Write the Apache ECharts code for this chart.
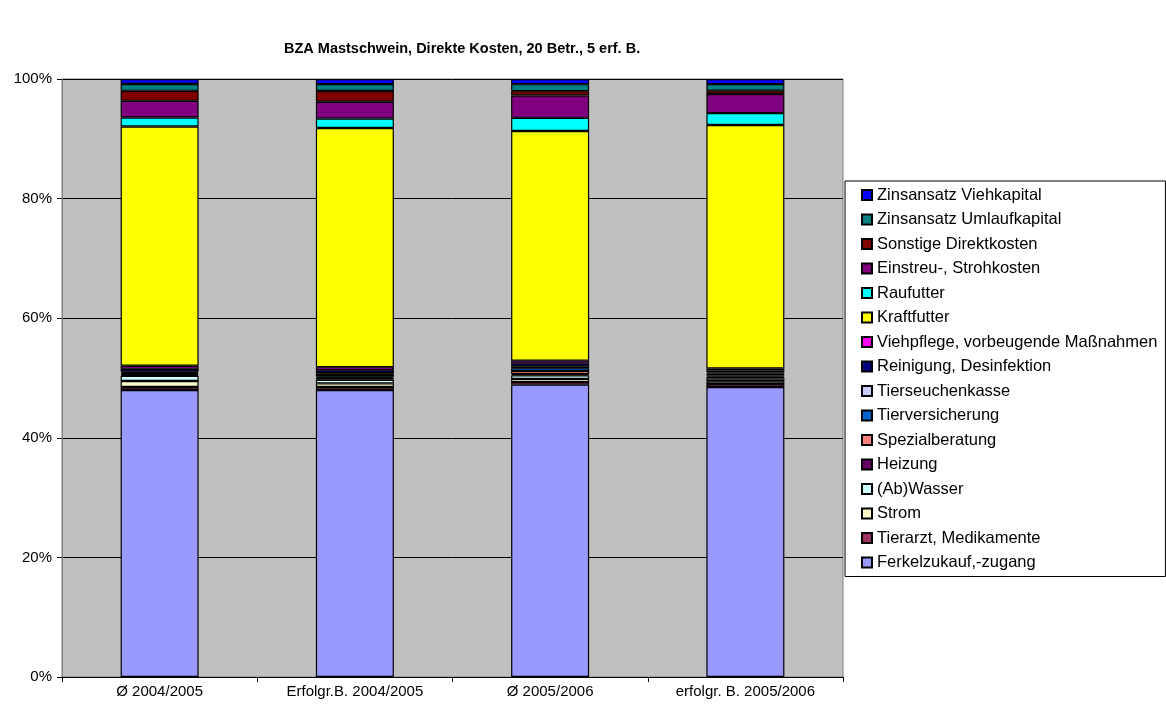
<!DOCTYPE html>
<html>
<head>
<meta charset="utf-8">
<script src="https://cdn.jsdelivr.net/npm/echarts@6/dist/echarts.min.js"></script>
<style>
  html, body { margin: 0; padding: 0; background: #fff; }
  #chart { width: 1166px; height: 708px; }
</style>
</head>
<body>
<div id="chart"></div>
<script>
var categories = ["Ø 2004/2005", "Erfolgr.B. 2004/2005", "Ø 2005/2006", "erfolgr. B. 2005/2006"];

// Anteile in % (von unten nach oben gestapelt)
var ferkel         = [48.0, 48.0, 48.9, 48.5];
var tierarzt       = [0.5, 0.5, 0.45, 0.5];
var strom          = [1.0, 0.6, 0.5, 0.45];
var wasser         = [0.85, 0.6, 0.6, 0.45];
var heizung        = [0.15, 0.3, 0.2, 0.3];
var spezial        = [0.15, 0.2, 0.5, 0.2];
var tierversich    = [0.2, 0.3, 0.5, 0.3];
var tierseuchen    = [0.2, 0.3, 0.3, 0.2];
var reinigung      = [0.5, 0.5, 0.5, 0.35];
var viehpflege     = [0.5, 0.5, 0.45, 0.35];
var kraftfutter    = [40.0, 40.0, 38.4, 40.7];
var raufutter      = [1.5, 1.6, 2.2, 2.0];
var einstreu       = [2.8, 2.8, 3.75, 3.2];
var sonstige       = [1.67, 1.8, 0.72, 0.55];
var zinsUmlauf     = [1.15, 1.15, 1.17, 1.1];
var zinsVieh       = [0.83, 0.85, 0.84, 0.84];

var yTicks = [0, 20, 40, 60, 80, 100];

var seriesDefs = [
  { name: "Ferkelzukauf,-zugang", data: ferkel, color: "#9999FF" },
  { name: "Tierarzt, Medikamente", data: tierarzt, color: "#993366" },
  { name: "Strom", data: strom, color: "#FFFFCC" },
  { name: "(Ab)Wasser", data: wasser, color: "#CCFFFF" },
  { name: "Heizung", data: heizung, color: "#660066" },
  { name: "Spezialberatung", data: spezial, color: "#FF8080" },
  { name: "Tierversicherung", data: tierversich, color: "#0066CC" },
  { name: "Tierseuchenkasse", data: tierseuchen, color: "#CCCCFF" },
  { name: "Reinigung, Desinfektion", data: reinigung, color: "#000080" },
  { name: "Viehpflege, vorbeugende Maßnahmen", data: viehpflege, color: "#FF00FF" },
  { name: "Kraftfutter", data: kraftfutter, color: "#FFFF00" },
  { name: "Raufutter", data: raufutter, color: "#00FFFF" },
  { name: "Einstreu-, Strohkosten", data: einstreu, color: "#800080" },
  { name: "Sonstige Direktkosten", data: sonstige, color: "#800000" },
  { name: "Zinsansatz Umlaufkapital", data: zinsUmlauf, color: "#008080" },
  { name: "Zinsansatz Viehkapital", data: zinsVieh, color: "#0000FF" }
];

var font = "Arial, 'Liberation Sans', sans-serif";

var chart = echarts.init(document.getElementById("chart"));
chart.setOption({
  animation: false,
  textStyle: { fontFamily: font },
  title: {
    text: "BZA Mastschwein, Direkte Kosten, 20 Betr., 5 erf. B.",
    left: 279,
    top: 36,
    textStyle: { fontSize: 14.5, fontWeight: "bold", color: "#000", fontFamily: font }
  },
  legend: {
    orient: "vertical",
    left: 845,
    top: 181,
    padding: [5, 8, 5, 16],
    borderColor: "#000",
    borderWidth: 1,
    icon: "rect",
    itemWidth: 10,
    itemHeight: 10,
    itemGap: 6.5,
    selectedMode: false,
    data: seriesDefs.map(function (s) { return s.name; }).reverse(),
    textStyle: { fontSize: 16.5, color: "#000", lineHeight: 18, fontFamily: font }
  },
  grid: {
    left: 62,
    right: 323,
    top: 79,
    bottom: 31,
    show: true,
    backgroundColor: "#C0C0C0",
    borderColor: "#808080",
    borderWidth: 1
  },
  xAxis: {
    type: "category",
    data: categories,
    axisLine: { lineStyle: { color: "#000" } },
    axisTick: { show: true, alignWithLabel: false, length: 5, lineStyle: { color: "#000" } },
    axisLabel: { color: "#000", fontSize: 15, margin: 7, fontFamily: font }
  },
  yAxis: {
    type: "value",
    min: yTicks[0],
    max: yTicks[yTicks.length - 1],
    interval: 20,
    axisLine: { show: true, lineStyle: { color: "#808080" } },
    axisTick: { show: true, length: 5, lineStyle: { color: "#000" } },
    axisLabel: { color: "#000", fontSize: 15, margin: 10, formatter: "{value}%", fontFamily: font },
    splitLine: { lineStyle: { color: "#000", width: 1 } }
  },
  series: seriesDefs.map(function (s) {
    return {
      name: s.name,
      type: "bar",
      stack: "total",
      barWidth: 78,
      data: s.data,
      itemStyle: { color: s.color, borderColor: "#000", borderWidth: 1.2 }
    };
  })
});
</script>
</body>
</html>
